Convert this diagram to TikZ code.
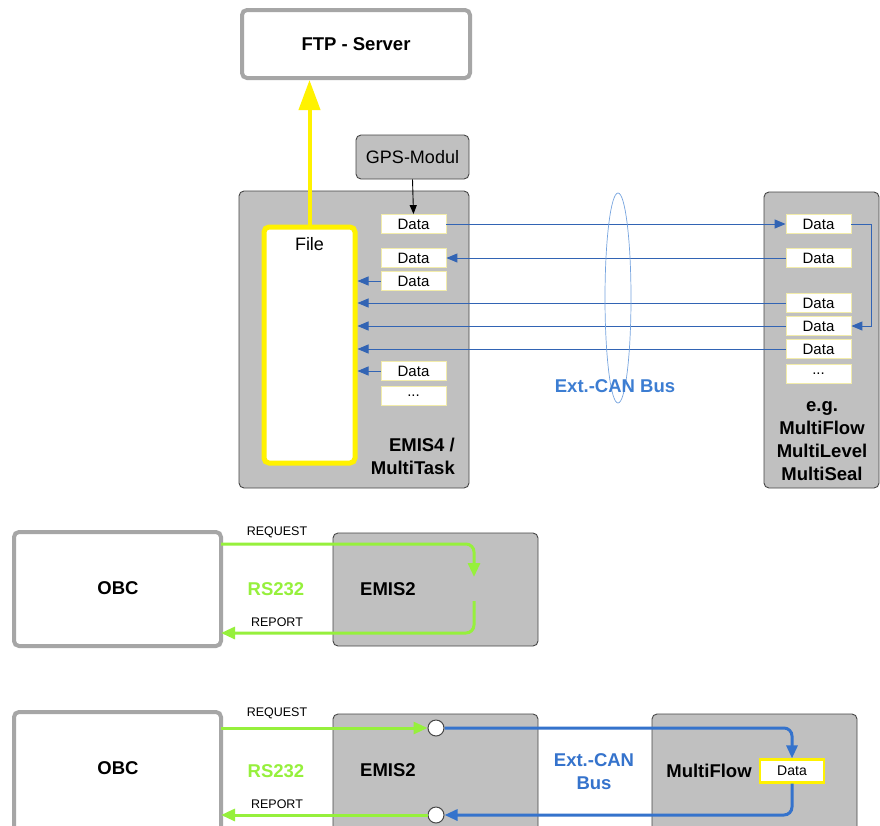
\documentclass[tikz,border=0pt]{standalone}
\usepackage{fontspec}
\setmainfont{Liberation Sans}
\usetikzlibrary{arrows.meta,calc}
\definecolor{boxgray}{RGB}{192,192,192}
\definecolor{darkborder}{RGB}{70,70,70}
\definecolor{lightborder}{RGB}{166,166,166}
\definecolor{datayellow}{RGB}{242,236,170}
\definecolor{busblue}{RGB}{50,100,180}
\definecolor{cantext}{RGB}{60,125,210}
\definecolor{rsgreen}{RGB}{150,240,60}
\definecolor{thickblue}{RGB}{53,115,204}
\tikzset{
  graybox/.style={draw=darkborder, fill=boxgray, rounded corners=5pt, line width=0.9pt, inner sep=0pt},
  whitebox/.style={draw=lightborder, fill=white, rounded corners=5pt, line width=4pt, inner sep=0pt},
  filebox/.style={draw=yellow, fill=white, rounded corners=5pt, line width=5pt, inner sep=0pt},
  databox/.style={draw=datayellow, fill=white, line width=0.8pt, minimum width=65pt, minimum height=19pt, inner sep=0pt, font=\fontsize{15}{18}\selectfont},
  bigbold/.style={font=\fontsize{18.5}{23}\selectfont\bfseries, inner sep=0pt},
  normtext/.style={font=\fontsize{18}{22}\selectfont, inner sep=0pt},
  smalltext/.style={font=\fontsize{12.5}{15}\selectfont, inner sep=0pt},
  busline/.style={draw=busblue, line width=1pt},
  bustip/.style={-{Triangle[length=11pt,width=9pt]}},
  greenline/.style={draw=rsgreen, line width=3pt, rounded corners=8pt},
  greentip/.style={-{Triangle[length=14pt,width=12pt]}},
  blueline/.style={draw=thickblue, line width=3pt, rounded corners=8pt},
  bluetip/.style={-{Triangle[length=13pt,width=11pt]}},
  portcircle/.style={circle, draw=darkborder, fill=white, line width=1pt, minimum size=16pt, inner sep=0pt},
}
\begin{document}
\begin{tikzpicture}[x=1pt,y=-1pt]
\clip (0,0) rectangle (880,825);
\fill[white] (0,0) rectangle (880,825);

% ---------- top part ----------
\node[whitebox, minimum width=228pt, minimum height=68pt] (ftp) at (356,44) {};
\node[bigbold] (ftplabel) at (356,44) {FTP - Server};

\node[graybox, minimum width=113pt, minimum height=44pt] (gps) at (412.5,157) {};
\node[normtext] (gpslabel) at (412.5,157) {GPS-Modul};

\node[graybox, minimum width=230pt, minimum height=297pt] (emis4) at (354,339.5) {};
\node[bigbold, align=right, anchor=east] (emis4label) at (455,456) {EMIS4 /\\MultiTask};

\node[filebox, minimum width=91pt, minimum height=236pt] (file) at (309.5,345) {};
\node[normtext] (filelabel) at (309.5,244) {File};

\node[graybox, minimum width=115pt, minimum height=296pt] (mod) at (821.5,340) {};
\node[bigbold, align=center] (modlabel) at (822,441) {e.g.\\MultiFlow\\MultiLevel\\MultiSeal};

% left data boxes
\node[databox] (l1) at (413.5,224) {Data};
\node[databox] (l2) at (413.5,258) {Data};
\node[databox] (l3) at (413.5,281) {Data};
\node[databox] (l4) at (413.5,371) {Data};
\node[databox] (l5) at (413.5,396) {...};

% right data boxes
\node[databox] (r1) at (818.5,224) {Data};
\node[databox] (r2) at (818.5,258) {Data};
\node[databox] (r3) at (818.5,303) {Data};
\node[databox] (r4) at (818.5,326) {Data};
\node[databox] (r5) at (818.5,349) {Data};
\node[databox] (r6) at (818.5,374) {...};

% yellow upload arrow
\draw[draw=yellow, line width=4pt, -{Triangle[length=30pt,width=21pt]}] (file.north) -- (file.north |- ftp.south);

% GPS arrow
\draw[black, line width=0.9pt, -{Triangle[length=9pt,width=7pt]}] (gps.south) -- (l1.north);

% bus lines
\draw[busline, bustip] (l1.east) -- (r1.west);
\draw[busline, bustip] (r2.west) -- (l2.east);
\draw[busline, bustip] (l3.west) -- (l3.west -| file.east);
\draw[busline, bustip] (r3.west) -- (r3.west -| file.east);
\draw[busline, bustip] (r4.west) -- (r4.west -| file.east);
\draw[busline, bustip] (r5.west) -- (r5.west -| file.east);
\draw[busline, bustip] (l4.west) -- (l4.west -| file.east);
\draw[busline, bustip] (r1.east) -- ++(20,0) |- (r4.east);

% bus ellipse
\draw[draw=cantext!70, line width=0.7pt] (618,298) ellipse [x radius=13, y radius=105];
\node[bigbold, text=cantext] (canlabel) at (615,386) {Ext.-CAN Bus};

% ---------- middle part ----------
\node[whitebox, minimum width=207pt, minimum height=114pt] (obc1) at (117.5,589) {};
\node[bigbold] (obc1label) at (118,588) {OBC};
\node[graybox, minimum width=205pt, minimum height=113pt] (em2a) at (435.5,589.5) {};
\node[bigbold] (em2alabel) at (388,589) {EMIS2};

\coordinate (reqA) at (221,544);
\coordinate (reqAend) at (474,577);
\coordinate (repA) at (474,601);
\coordinate (repAend) at (221,633);
\draw[greenline, greentip] (reqA) -- (reqAend |- reqA) -- (reqAend);
\draw[greenline, greentip] (repA) -- (repA |- repAend) -- (repAend);
\node[smalltext] (reqAlabel) at (277,532) {REQUEST};
\node[smalltext] (repAlabel) at (277,622) {REPORT};
\node[bigbold, text=rsgreen] (rsA) at (276,589) {RS232};

% ---------- bottom part ----------
\node[whitebox, minimum width=207pt, minimum height=130pt] (obc2) at (117.5,777) {};
\node[bigbold] (obc2label) at (118,768) {OBC};
\node[graybox, minimum width=205pt, minimum height=130pt] (em2b) at (435.5,779) {};
\node[bigbold] (em2blabel) at (388,770) {EMIS2};
\node[graybox, minimum width=205pt, minimum height=130pt] (mf) at (754.5,779) {};
\node[bigbold] (mflabel) at (709,771) {MultiFlow};
\node[draw=yellow, fill=white, line width=2.2pt, minimum width=64pt, minimum height=23pt, inner sep=0pt, font=\fontsize{14}{17}\selectfont] (mfdata) at (792,771) {Data};

\node[portcircle] (c1) at (436,728) {};
\node[portcircle] (c2) at (436,815) {};

\coordinate (reqB) at (221,728);
\coordinate (repB) at (221,815);
\draw[greenline, greentip] (reqB) -- (c1.west);
\draw[greenline, greentip] (c2.west) -- (repB);
\node[smalltext] (reqBlabel) at (277,713) {REQUEST};
\node[smalltext] (repBlabel) at (277,804) {REPORT};
\node[bigbold, text=rsgreen] (rsB) at (276,771) {RS232};

\draw[blueline, bluetip] (c1.east) -- (mfdata.north |- c1.east) -- (mfdata.north);
\draw[blueline, bluetip] (mfdata.south) -- (mfdata.south |- c2.east) -- (c2.east);
\node[bigbold, text=thickblue, align=center] (canB) at (594,772) {Ext.-CAN\\Bus};
\end{tikzpicture}
\end{document}
